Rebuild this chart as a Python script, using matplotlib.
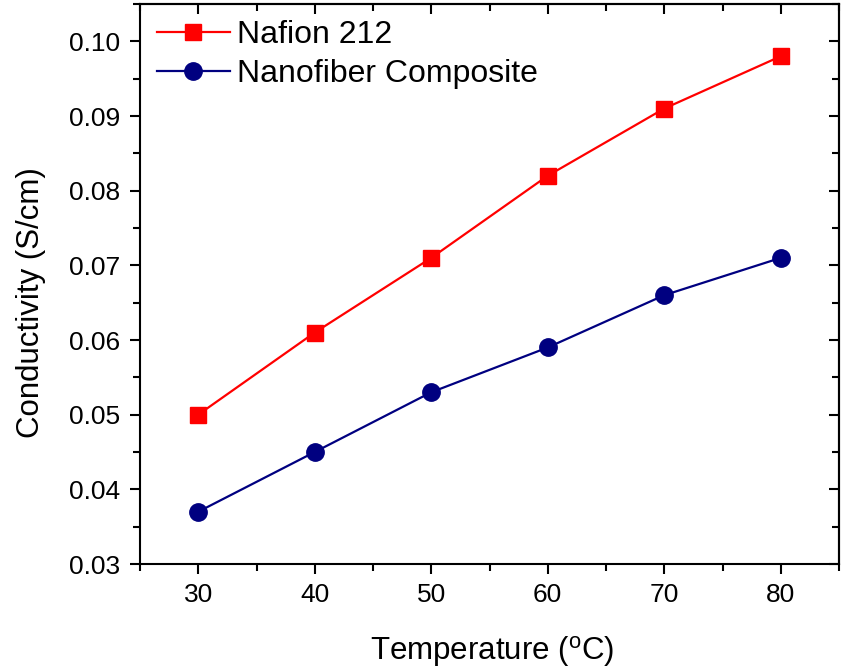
import matplotlib
matplotlib.use("Agg")
import matplotlib.pyplot as plt
from matplotlib.ticker import MultipleLocator, FormatStrFormatter

temperature = [30, 40, 50, 60, 70, 80]
nafion_212 = [0.050, 0.061, 0.071, 0.082, 0.091, 0.098]
nanofiber_composite = [0.037, 0.045, 0.053, 0.059, 0.066, 0.071]

plt.rcParams['font.family'] = ['Liberation Sans', 'DejaVu Sans']
plt.rcParams['mathtext.fontset'] = 'custom'
plt.rcParams['mathtext.rm'] = 'Liberation Sans'

fig = plt.figure(figsize=(8.42, 6.69), dpi=100)
ax = fig.add_axes([140/842, 1-564/669, (839-140)/842, (564-4)/669])

ax.plot(temperature, nafion_212, color='#FF0000', marker='s', markersize=12,
        linewidth=1.6, label='Nafion 212')
ax.plot(temperature, nanofiber_composite, color='#000080', marker='o', markersize=12.5,
        linewidth=1.6, label='Nanofiber Composite')

ax.set_xlim(25, 85)
ax.set_ylim(0.03, 0.105)
ax.xaxis.set_major_locator(MultipleLocator(10))
ax.xaxis.set_minor_locator(MultipleLocator(5))
ax.yaxis.set_major_locator(MultipleLocator(0.01))
ax.yaxis.set_minor_locator(MultipleLocator(0.005))
ax.yaxis.set_major_formatter(FormatStrFormatter('%.2f'))

for s in ax.spines.values():
    s.set_linewidth(1.5)

ax.tick_params(which='both', direction='out', top=False, right=False, width=1.5, labelsize=19)
ax.tick_params(which='major', length=7.5, pad=6.5)
ax.tick_params(which='minor', length=5)

# inward ticks on top and right via secondary axes
secx = ax.secondary_xaxis('top')
secx.xaxis.set_major_locator(MultipleLocator(10))
secx.xaxis.set_minor_locator(MultipleLocator(5))
secx.tick_params(which='both', direction='in', width=1.5, labeltop=False)
secx.tick_params(which='major', length=7.5)
secx.tick_params(which='minor', length=5)
secx.spines['top'].set_linewidth(1.5)
secy = ax.secondary_yaxis('right')
secy.yaxis.set_major_locator(MultipleLocator(0.01))
secy.yaxis.set_minor_locator(MultipleLocator(0.005))
secy.tick_params(which='both', direction='in', width=1.5, labelright=False)
secy.tick_params(which='major', length=7.5)
secy.tick_params(which='minor', length=5)
secy.spines['right'].set_linewidth(1.5)

ax.set_xlabel('Temperature ($^{\\mathrm{o}}$C)', fontsize=22.5)
ax.set_ylabel('Conductivity (S/cm)', fontsize=22.5)
ax.xaxis.set_label_coords((492-140)/699, (564-634)/560)
ax.yaxis.set_label_coords((46-140)/699, (564-303)/560)

ax.legend(loc='upper left', bbox_to_anchor=((157-140)/699, (564-20)/560),
          frameon=False, fontsize=23, handlelength=2.28,
          handletextpad=0.22, labelspacing=0.28, borderaxespad=0, borderpad=0)

fig.savefig('out.png', dpi=100)
